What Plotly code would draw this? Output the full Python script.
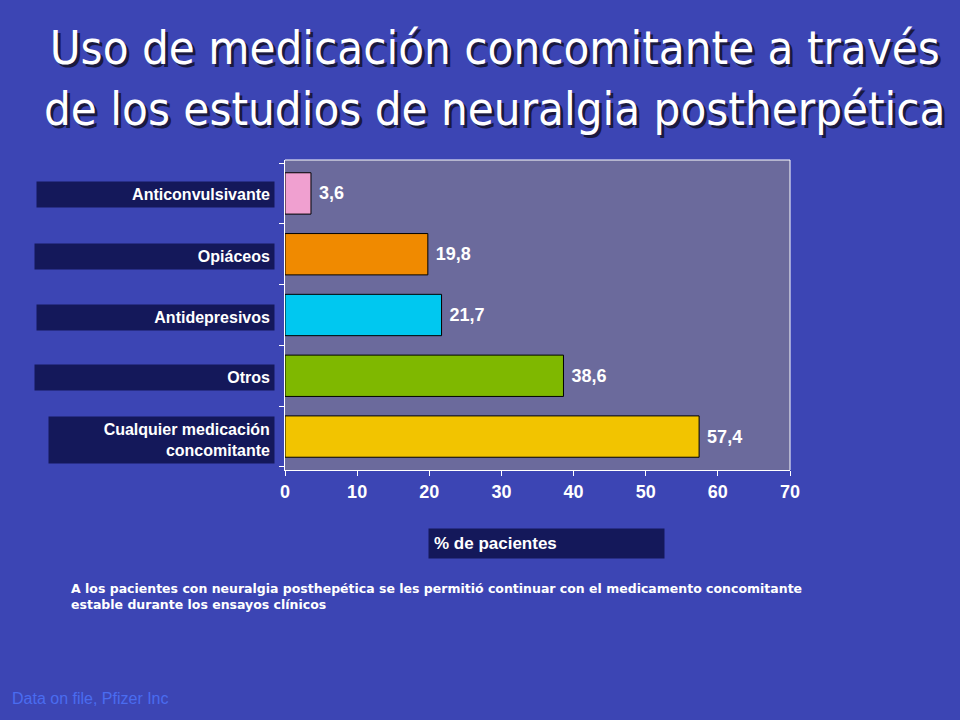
import plotly.graph_objects as go

categories = ["Cualquier medicación<br>concomitante", "Otros", "Antidepresivos", "Opiáceos", "Anticonvulsivante"]
values = [57.4, 38.6, 21.7, 19.8, 3.6]
value_labels = ["<b> 57,4</b>", "<b> 38,6</b>", "<b> 21,7</b>", "<b> 19,8</b>", "<b> 3,6</b>"]
colors = ["#f2c400", "#7fb800", "#00c8f0", "#f08a00", "#f0a0d0"]
x_ticks = [0, 10, 20, 30, 40, 50, 60, 70]

BF = "Liberation Sans"
fig = go.Figure()
fig.add_trace(go.Bar(
    y=list(range(len(categories))), x=values, orientation="h",
    marker=dict(color=colors, line=dict(color="#000000", width=1)),
    width=0.68, text=value_labels, textposition="outside",
    textfont=dict(color="white", size=18, family=BF),
    cliponaxis=False, hoverinfo="skip"))

W, H = 960, 720
x0, x1, yt, yb = 285, 790, 160, 470
fig.update_layout(
    width=W, height=H, autosize=False, showlegend=False,
    paper_bgcolor="#3c45b4", plot_bgcolor="#6b6a9c",
    margin=dict(l=x0, r=W - x1, t=yt, b=H - yb),
    xaxis=dict(range=[0, 70], tickvals=x_ticks, ticktext=[f"<b>{t}</b>" for t in x_ticks],
               showgrid=False, zeroline=False,
               ticks="outside", ticklen=5, tickcolor="white", showline=True, linecolor="white",
               tickfont=dict(color="white", size=18, family=BF)),
    yaxis=dict(range=[-0.55, 4.55], showticklabels=False, showgrid=False, zeroline=False,
               ticks="outside", ticklen=5, tickcolor="white", tickvals=[-0.5,0.5,1.5,2.5,3.5,4.5],
               showline=True, linecolor="white"),
    shapes=[
        dict(type="line", xref="paper", yref="paper", x0=1, x1=1, y0=0, y1=1, line=dict(color="white", width=1)),
        dict(type="line", xref="paper", yref="paper", x0=0, x1=1, y0=1, y1=1, line=dict(color="white", width=1)),
    ],
)

def px_to_paper(px, py):
    return (px - x0) / (x1 - x0), (yb - py) / (yb - yt)

anns = []
tx, ty = px_to_paper(495, 18)
for dx, col in [(3, "#1a1a40"), (0, "white")]:
    anns.append(dict(text="Uso de medicación concomitante a través<br>de los estudios de neuralgia postherpética",
                     xref="paper", yref="paper", x=tx, y=ty, xanchor="center", yanchor="top",
                     xshift=dx, yshift=-dx, showarrow=False,
                     font=dict(color=col, size=47, family="DejaVu Sans Condensed"), align="center"))
box_y = [440, 377, 317, 256, 194]
box_x0 = [50, 36, 38, 36, 38]
for cat, by, bx in zip(categories, box_y, box_x0):
    w = 275 - bx
    ax, ay = px_to_paper(275, by)
    anns.append(dict(text=f"<b>{cat}</b>", xref="paper", yref="paper", x=ax, y=ay, xanchor="right", yanchor="middle",
                     showarrow=False, align="right", bgcolor="#14185a", width=w - 8, borderpad=4,
                     font=dict(color="white", size=16, family=BF)))
px_, py_ = px_to_paper(428, 543)
anns.append(dict(text="<b>% de pacientes</b>", xref="paper", yref="paper", x=px_, y=py_, xanchor="left", yanchor="middle",
                 showarrow=False, align="left", bgcolor="#14185a", width=225, borderpad=5,
                 font=dict(color="white", size=17, family=BF)))
fx, fy = px_to_paper(69, 596)
anns.append(dict(text="<b>A los pacientes con neuralgia posthepética se les permitió continuar con el medicamento concomitante<br>estable durante los ensayos clínicos</b>",
                 xref="paper", yref="paper", x=fx, y=fy, xanchor="left", yanchor="middle", showarrow=False,
                 align="left", font=dict(color="white", size=12.5, family="DejaVu Sans")))
sx, sy = px_to_paper(10, 698)
anns.append(dict(text="Data on file, Pfizer Inc", xref="paper", yref="paper", x=sx, y=sy, xanchor="left",
                 yanchor="middle", showarrow=False, font=dict(color="#4a6cf0", size=16, family=BF)))
fig.update_layout(annotations=anns)
fig.write_html("out.html", config={"displayModeBar": False})
with open("out.html", encoding="utf-8") as f:
    html = f.read()
html = html.replace("<head>", "<head><style>body{margin:0;}</style>", 1)
with open("out.html", "w", encoding="utf-8") as f:
    f.write(html)
